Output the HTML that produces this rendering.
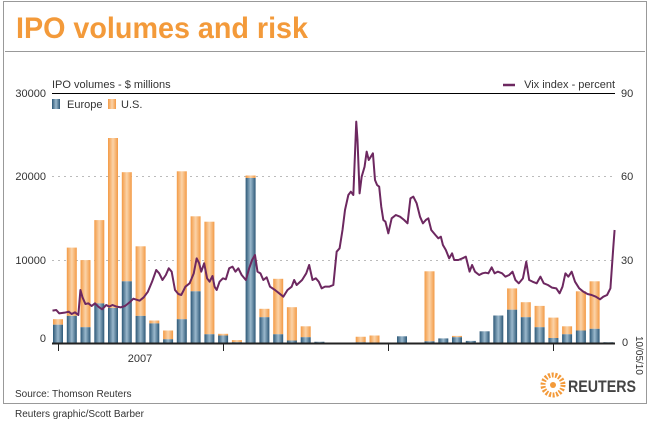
<!DOCTYPE html><html><head><style>body{margin:0;background:#fff}svg{display:block;font-family:"Liberation Sans",Arial,sans-serif}</style></head><body>
<svg width="650" height="423" viewBox="0 0 650 423">
<defs>
<linearGradient id="eu" x1="0" x2="1"><stop offset="0" stop-color="#2d5877"/><stop offset=".5" stop-color="#9ab8cc"/><stop offset="1" stop-color="#2d5877"/></linearGradient>
<linearGradient id="us" x1="0" x2="1"><stop offset="0" stop-color="#f39a45"/><stop offset=".5" stop-color="#fbd3a8"/><stop offset="1" stop-color="#f39a45"/></linearGradient>
</defs>
<rect x="3.5" y="1.5" width="643" height="402" fill="#fff" stroke="#999"/>
<text x="16" y="38" font-size="30" font-weight="bold" fill="#f39a3a" textLength="292" lengthAdjust="spacingAndGlyphs">IPO volumes and risk</text>
<line x1="5" y1="51.5" x2="645" y2="51.5" stroke="#999"/>
<line x1="52" y1="176.5" x2="615" y2="176.5" stroke="#bbb" stroke-dasharray="2,4"/>
<line x1="52" y1="260.5" x2="615" y2="260.5" stroke="#bbb" stroke-dasharray="2,4"/>
<line x1="52" y1="93.5" x2="615" y2="93.5" stroke="#000"/>
<text x="52" y="88" font-size="11" fill="#333">IPO volumes - $ millions</text>
<line x1="503" y1="85" x2="515" y2="85" stroke="#6d2860" stroke-width="2.5"/>
<text x="615" y="88" font-size="11" fill="#333" text-anchor="end">Vix index - percent</text>
<rect x="52" y="99" width="8" height="10" fill="url(#eu)"/><text x="67" y="108" font-size="11" fill="#333">Europe</text>
<rect x="108" y="99" width="8" height="10" fill="url(#us)"/><text x="121" y="108" font-size="11" fill="#333">U.S.</text>
<g font-size="11" fill="#333" text-anchor="end">
<text x="46" y="97">30000</text><text x="46" y="180">20000</text><text x="46" y="264">10000</text><text x="46" y="342">0</text></g>
<g font-size="11" fill="#333"><text x="621" y="97">90</text><text x="621" y="180">60</text><text x="621" y="264">30</text><text x="622" y="346">0</text></g>
<g>
<rect x="53" y="319.2" width="10" height="5.5" fill="url(#us)"/><rect x="53" y="324.7" width="10" height="18.3" fill="url(#eu)"/>
<rect x="66.8" y="247.6" width="10" height="68.3" fill="url(#us)"/><rect x="66.8" y="315.9" width="10" height="27.1" fill="url(#eu)"/>
<rect x="80.5" y="260.1" width="10" height="67.1" fill="url(#us)"/><rect x="80.5" y="327.2" width="10" height="15.8" fill="url(#eu)"/>
<rect x="94.3" y="220.1" width="10" height="83.3" fill="url(#us)"/><rect x="94.3" y="303.4" width="10" height="39.6" fill="url(#eu)"/>
<rect x="108" y="138" width="10" height="170" fill="url(#us)"/><rect x="108" y="308" width="10" height="35" fill="url(#eu)"/>
<rect x="121.8" y="172.2" width="10" height="109.1" fill="url(#us)"/><rect x="121.8" y="281.3" width="10" height="61.7" fill="url(#eu)"/>
<rect x="135.6" y="246.3" width="10" height="69.6" fill="url(#us)"/><rect x="135.6" y="315.9" width="10" height="27.1" fill="url(#eu)"/>
<rect x="149.3" y="320.5" width="10" height="2.9" fill="url(#us)"/><rect x="149.3" y="323.4" width="10" height="19.6" fill="url(#eu)"/>
<rect x="163.1" y="330.5" width="10" height="8.75" fill="url(#us)"/><rect x="163.1" y="339.25" width="10" height="3.75" fill="url(#eu)"/>
<rect x="176.8" y="171.3" width="10" height="147.9" fill="url(#us)"/><rect x="176.8" y="319.2" width="10" height="23.8" fill="url(#eu)"/>
<rect x="190.6" y="216.3" width="10" height="75" fill="url(#us)"/><rect x="190.6" y="291.3" width="10" height="51.7" fill="url(#eu)"/>
<rect x="204.4" y="221.7" width="10" height="112.55" fill="url(#us)"/><rect x="204.4" y="334.25" width="10" height="8.75" fill="url(#eu)"/>
<rect x="218.1" y="333.8" width="10" height="1.7" fill="url(#us)"/><rect x="218.1" y="335.5" width="10" height="7.5" fill="url(#eu)"/>
<rect x="231.9" y="340.1" width="10" height="2.1" fill="url(#us)"/><rect x="231.9" y="342.2" width="10" height="0.8" fill="url(#eu)"/>
<rect x="245.6" y="175.5" width="10" height="2.5" fill="url(#us)"/><rect x="245.6" y="178" width="10" height="165" fill="url(#eu)"/>
<rect x="259.4" y="308.8" width="10" height="8.4" fill="url(#us)"/><rect x="259.4" y="317.2" width="10" height="25.8" fill="url(#eu)"/>
<rect x="273.2" y="278.8" width="10" height="55.45" fill="url(#us)"/><rect x="273.2" y="334.25" width="10" height="8.75" fill="url(#eu)"/>
<rect x="286.9" y="307.2" width="10" height="33.3" fill="url(#us)"/><rect x="286.9" y="340.5" width="10" height="2.5" fill="url(#eu)"/>
<rect x="300.7" y="326.3" width="10" height="10.9" fill="url(#us)"/><rect x="300.7" y="337.2" width="10" height="5.8" fill="url(#eu)"/>
<rect x="314.4" y="341.75" width="10" height="1.25" fill="url(#eu)"/>
<rect x="328.2" y="342.6" width="10" height="0.4" fill="url(#eu)"/>
<rect x="355.7" y="336.75" width="10" height="5.55" fill="url(#us)"/><rect x="355.7" y="342.3" width="10" height="0.7" fill="url(#eu)"/>
<rect x="369.5" y="335.5" width="10" height="7.5" fill="url(#us)"/>
<rect x="397" y="336.3" width="10" height="6.7" fill="url(#eu)"/>
<rect x="424.5" y="271.3" width="10" height="70" fill="url(#us)"/><rect x="424.5" y="341.3" width="10" height="1.7" fill="url(#eu)"/>
<rect x="438.3" y="338.4" width="10" height="4.6" fill="url(#eu)"/>
<rect x="452" y="335.9" width="10" height="1.3" fill="url(#us)"/><rect x="452" y="337.2" width="10" height="5.8" fill="url(#eu)"/>
<rect x="465.8" y="340.9" width="10" height="2.1" fill="url(#eu)"/>
<rect x="479.6" y="331.3" width="10" height="11.7" fill="url(#eu)"/>
<rect x="493.3" y="315.5" width="10" height="27.5" fill="url(#eu)"/>
<rect x="507.1" y="288.4" width="10" height="21.3" fill="url(#us)"/><rect x="507.1" y="309.7" width="10" height="33.3" fill="url(#eu)"/>
<rect x="520.8" y="302.2" width="10" height="15" fill="url(#us)"/><rect x="520.8" y="317.2" width="10" height="25.8" fill="url(#eu)"/>
<rect x="534.6" y="305.9" width="10" height="21.3" fill="url(#us)"/><rect x="534.6" y="327.2" width="10" height="15.8" fill="url(#eu)"/>
<rect x="548.4" y="317.6" width="10" height="20.4" fill="url(#us)"/><rect x="548.4" y="338" width="10" height="5" fill="url(#eu)"/>
<rect x="562.1" y="326.3" width="10" height="7.95" fill="url(#us)"/><rect x="562.1" y="334.25" width="10" height="8.75" fill="url(#eu)"/>
<rect x="575.9" y="291.3" width="10" height="39.2" fill="url(#us)"/><rect x="575.9" y="330.5" width="10" height="12.5" fill="url(#eu)"/>
<rect x="589.6" y="281.3" width="10" height="47.5" fill="url(#us)"/><rect x="589.6" y="328.8" width="10" height="14.2" fill="url(#eu)"/>
<rect x="603.4" y="342.2" width="10" height="0.8" fill="url(#eu)"/>
</g>
<g transform="translate(0,60) scale(0.41667,0.33333)">
<polyline fill="none" stroke="#6d2860" stroke-width="2" vector-effect="non-scaling-stroke" stroke-linejoin="round" points="126,752 135,750 142,760 155,758 165,755 172,762 180,757 188,765 193,690 198,712 205,732 212,730 220,738 228,730 236,740 245,748 255,735 262,740 270,735 280,740 290,742 300,738 312,726 320,716 335,722 345,712 355,695 365,665 375,630 382,640 390,660 398,645 405,625 412,635 420,690 428,702 435,705 445,680 455,670 465,640 472,595 478,610 483,635 490,610 497,655 503,665 510,648 515,680 520,690 527,665 535,655 542,658 550,625 558,620 565,635 572,625 580,645 590,660 598,625 605,600 612,585 618,635 625,640 632,660 640,652 648,680 660,690 670,700 680,710 690,690 700,680 706,660 712,675 725,660 735,640 742,615 750,660 758,655 765,665 772,685 780,680 790,680 800,675 808,575 815,565 822,510 828,450 836,405 842,395 848,405 855,185 858,240 863,400 868,350 875,320 880,275 885,300 890,290 895,280 900,360 905,375 910,380 915,440 920,480 925,485 932,520 940,475 950,465 960,470 970,480 978,490 985,415 992,410 1000,430 1008,470 1015,490 1022,480 1028,475 1035,510 1045,525 1052,535 1058,530 1063,555 1070,570 1078,595 1085,580 1090,600 1100,600 1110,595 1118,590 1127,635 1133,615 1140,635 1150,645 1158,640 1165,638 1172,640 1180,622 1187,640 1195,635 1205,640 1213,650 1222,645 1230,635 1237,660 1245,670 1255,655 1263,605 1270,660 1278,665 1288,670 1297,650 1305,670 1315,675 1325,683 1335,685 1343,700 1350,680 1357,640 1364,650 1372,635 1380,665 1390,685 1400,695 1410,702 1420,705 1430,710 1440,718 1448,710 1457,705 1465,685 1472,560 1475,510"/>
</g>
<line x1="52" y1="343.5" x2="615" y2="343.5" stroke="#222" stroke-width="2"/>
<g stroke="#222"><line x1="58.5" y1="344" x2="58.5" y2="351"/><line x1="223.5" y1="344" x2="223.5" y2="351"/><line x1="388.5" y1="344" x2="388.5" y2="351"/><line x1="553.5" y1="344" x2="553.5" y2="351"/></g>
<text x="140" y="362" font-size="11" fill="#333" text-anchor="middle">2007</text>
<text transform="translate(636,336) rotate(90)" font-size="10" fill="#333">10/05/10</text>
<text x="15" y="397" font-size="10" fill="#333">Source: Thomson Reuters</text>
<text x="15" y="417" font-size="10" fill="#333">Reuters graphic/Scott Barber</text>
<circle cx="553" cy="385" r="10" fill="none" stroke="#f39a3a" stroke-width="5" stroke-dasharray="2,1.5"/>
<circle cx="553" cy="385" r="3" fill="#f39a3a"/>
<text x="568" y="392" font-size="17" font-weight="bold" fill="#444" textLength="68" lengthAdjust="spacingAndGlyphs">REUTERS</text>
</svg>
</body></html>
